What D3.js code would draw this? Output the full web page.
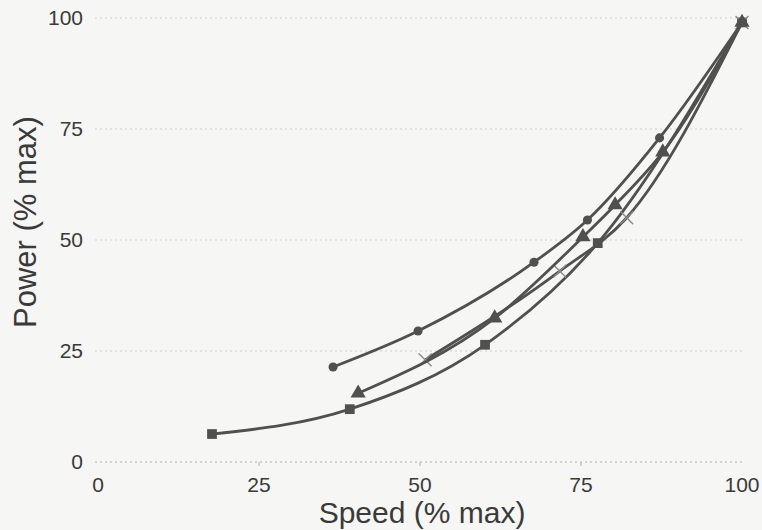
<!DOCTYPE html>
<html>
<head>
<meta charset="utf-8">
<script src="https://cdn.jsdelivr.net/npm/d3@7"></script>
<style>
  html, body { margin: 0; padding: 0; background: #f6f6f4; }
  svg { display: block; }
  text { font-family: "Liberation Sans", Arial, sans-serif; fill: #3a3a3a; }
</style>
</head>
<body>
<svg id="chart" width="762" height="530"></svg>
<script>
// ---- data ----
const xTicks = [0, 25, 50, 75, 100];
const yTicks = [0, 25, 50, 75, 100];

const speedCircles   = [36.5, 49.7, 67.7, 76.0, 87.2, 100];
const powerCircles   = [21.4, 29.5, 45.0, 54.5, 73.0, 99];

const speedTriangles = [40.4, 61.6, 75.3, 80.3, 87.7, 100];
const powerTriangles = [15.5, 32.4, 50.7, 57.9, 69.8, 99];

const speedCrosses   = [50.8, 71.7, 82.1, 100];
const powerCrosses   = [23.0, 43.0, 55.0, 99];

const speedSquares   = [17.7, 39.1, 60.1, 77.6, 100];
const powerSquares   = [6.3, 11.9, 26.4, 49.3, 99];

const xTitle = "Speed (% max)";
const yTitle = "Power (% max)";

// ---- drawing ----
const svg = d3.select("#chart");
const x = d3.scaleLinear().domain([0, 100]).range([98, 742]);
const y = d3.scaleLinear().domain([0, 100]).range([462, 18]);

// gridlines (dotted, faint)
svg.append("g").selectAll("line").data(yTicks).join("line")
  .attr("x1", 95).attr("x2", x(100))
  .attr("y1", d => y(d)).attr("y2", d => y(d))
  .attr("stroke", d => d === 0 ? "#b0b0b0" : "#cdcdcd")
  .attr("stroke-width", 1.2)
  .attr("stroke-dasharray", "2,3");

// x tick marks
svg.append("g").selectAll("line").data(xTicks.slice(1, 4)).join("line")
  .attr("x1", d => x(d)).attr("x2", d => x(d))
  .attr("y1", y(0)).attr("y2", y(0) + 4)
  .attr("stroke", "#bbb").attr("stroke-width", 1.2);

// y tick labels
svg.append("g").selectAll("text").data(yTicks).join("text")
  .attr("x", 83).attr("y", d => y(d))
  .attr("dy", "0.35em")
  .attr("text-anchor", "end")
  .style("font-size", "21px")
  .text(d => d);

// x tick labels
svg.append("g").selectAll("text").data(xTicks).join("text")
  .attr("x", d => x(d)).attr("y", 492)
  .attr("text-anchor", "middle")
  .style("font-size", "21px")
  .text(d => d);

// axis titles
svg.append("text")
  .attr("x", 422).attr("y", 523)
  .attr("text-anchor", "middle")
  .style("font-size", "30px")
  .text(xTitle);

svg.append("text")
  .attr("transform", "translate(36,222) rotate(-90)")
  .attr("text-anchor", "middle")
  .style("font-size", "31px")
  .text(yTitle);

const series = [
  { sx: speedSquares,   sy: powerSquares,   marker: "square" },
  { sx: speedCrosses,   sy: powerCrosses,   marker: "cross" },
  { sx: speedTriangles, sy: powerTriangles, marker: "triangle" },
  { sx: speedCircles,   sy: powerCircles,   marker: "circle" }
];

const line = d3.line()
  .x(d => x(d[0])).y(d => y(d[1]))
  .curve(d3.curveMonotoneX);

const lineColor = "#505050";

series.forEach(s => {
  const pts = s.sx.map((v, i) => [v, s.sy[i]]);
  svg.append("path")
    .datum(pts)
    .attr("d", line)
    .attr("fill", "none")
    .attr("stroke", lineColor)
    .attr("stroke-width", 2.8)
    .attr("stroke-linejoin", "round");

  const g = svg.append("g");
  let sym, rot = 0, fill = lineColor, stroke = "none", sw = 0;
  if (s.marker === "square") sym = d3.symbol(d3.symbolSquare, 95);
  else if (s.marker === "circle") sym = d3.symbol(d3.symbolCircle, 65);
  else if (s.marker === "triangle") { sym = d3.symbol(d3.symbolTriangle, 100); rot = 240; }
  else { sym = d3.symbol(d3.symbolX, 110); fill = "none"; stroke = "#8a8a8a"; sw = 1.4; }
  g.selectAll("path").data(pts).join("path")
    .attr("d", sym)
    .attr("transform", d => `translate(${x(d[0])},${y(d[1])}) rotate(${rot})`)
    .attr("fill", fill)
    .attr("stroke", stroke)
    .attr("stroke-width", sw);
});
</script>
</body>
</html>
